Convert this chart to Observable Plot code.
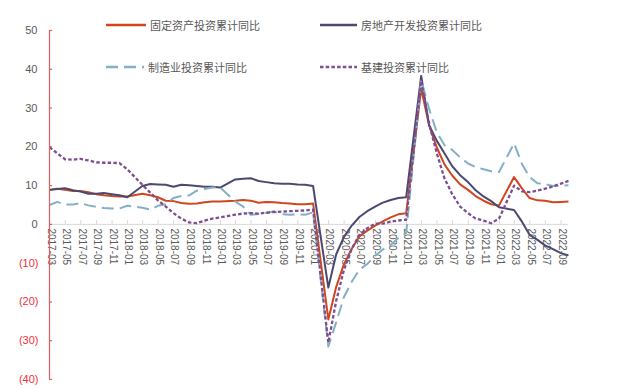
<!DOCTYPE html>
<html>
<head>
<meta charset="utf-8">
<script src="https://cdn.jsdelivr.net/npm/d3@7"></script>
<script src="https://cdn.jsdelivr.net/npm/@observablehq/plot@0.6"></script>
<style>
  html, body { margin: 0; padding: 0; background: #fff; }
  #wrap { position: relative; width: 626px; height: 388px; }
  .lg { position: absolute; display: flex; align-items: center; height: 16px;
        font-family: "Noto Sans CJK SC", "Noto Sans", sans-serif; font-size: 11px; color: #595959; white-space: nowrap; }
  .lg svg { margin-right: 4px; }
</style>
</head>
<body>
<div id="wrap"></div>
<script>
// ---- data (cumulative YoY %, month-end) ----
const months = [
  "2017-02","2017-03","2017-04","2017-05","2017-06","2017-07","2017-08","2017-09","2017-10","2017-11","2017-12",
  "2018-02","2018-03","2018-04","2018-05","2018-06","2018-07","2018-08","2018-09","2018-10","2018-11","2018-12",
  "2019-02","2019-03","2019-04","2019-05","2019-06","2019-07","2019-08","2019-09","2019-10","2019-11","2019-12",
  "2020-02","2020-03","2020-04","2020-05","2020-06","2020-07","2020-08","2020-09","2020-10","2020-11","2020-12",
  "2021-02","2021-03","2021-04","2021-05","2021-06","2021-07","2021-08","2021-09","2021-10","2021-11","2021-12",
  "2022-02","2022-03","2022-04","2022-05","2022-06","2022-07","2022-08","2022-09"
];
const seriesNames = ["固定资产投资累计同比", "房地产开发投资累计同比", "制造业投资累计同比", "基建投资累计同比"];
const fai = [
  8.9, 9.2, 8.9, 8.6, 8.6, 8.3, 7.8, 7.5, 7.3, 7.2, 7.2,
  7.9, 7.5, 7.0, 6.1, 6.0, 5.5, 5.3, 5.4, 5.7, 5.9, 5.9,
  6.1, 6.3, 6.1, 5.6, 5.8, 5.7, 5.5, 5.4, 5.2, 5.2, 5.4,
  -24.5, -16.1, -10.3, -6.3, -3.1, -1.6, -0.3, 0.8, 1.8, 2.6, 2.9,
  35.0, 25.6, 19.9, 15.4, 12.6, 10.3, 8.9, 7.3, 6.1, 5.2, 4.9,
  12.2, 9.3, 6.8, 6.2, 6.1, 5.7, 5.8, 5.9
];
const realEstate = [
  8.9, 9.1, 9.3, 8.8, 8.5, 7.9, 7.9, 8.1, 7.8, 7.5, 7.0,
  9.9, 10.4, 10.3, 10.2, 9.7, 10.2, 10.1, 9.9, 9.7, 9.7, 9.5,
  11.6, 11.8, 11.9, 11.2, 10.9, 10.6, 10.5, 10.5, 10.3, 10.2, 9.9,
  -16.3, -7.7, -3.3, -0.3, 1.9, 3.4, 4.6, 5.6, 6.3, 6.8, 7.0,
  38.3, 25.6, 21.6, 18.3, 15.0, 12.7, 10.9, 8.8, 7.2, 6.0, 4.4,
  3.7, 0.7, -2.7, -4.0, -5.4, -6.4, -7.4, -8.0
];
const manufacturing = [
  5.0, 5.8, 5.1, 5.1, 5.5, 4.9, 4.5, 4.2, 4.1, 4.1, 4.8,
  4.3, 3.8, 4.8, 5.2, 6.8, 7.3, 7.5, 8.7, 9.1, 9.5, 9.5,
  5.9, 4.6, 2.5, 2.7, 3.0, 3.3, 2.6, 2.5, 2.6, 2.5, 3.1,
  -31.5, -25.2, -18.8, -14.8, -11.7, -10.2, -8.1, -6.5, -5.3, -3.5, -2.2,
  37.3, 29.8, 23.8, 20.4, 19.2, 17.3, 15.7, 14.8, 14.2, 13.7, 13.5,
  20.9, 15.6, 12.2, 10.6, 10.4, 9.9, 10.0, 10.1
];
const infrastructure = [
  19.9, 18.3, 16.8, 16.7, 16.9, 16.5, 16.0, 15.9, 15.9, 15.8, 14.2,
  10.2, 8.2, 6.2, 4.6, 2.9, 1.5, 0.5, 0.3, 1.0, 1.5, 1.8,
  2.5, 2.8, 2.9, 2.8, 3.0, 3.2, 3.3, 3.4, 3.5, 3.6, 3.8,
  -30.5, -19.7, -11.8, -6.3, -2.7, -1.0, 0.2, 0.2, 0.7, 1.0, 1.2,
  37.0, 26.0, 18.4, 11.8, 7.8, 4.6, 2.9, 1.5, 1.0, 0.3, 1.5,
  10.0, 8.5, 8.3, 8.7, 9.2, 9.8, 10.5, 11.2
];
const xTickLabels = [
  "2017-03","2017-05","2017-07","2017-09","2017-11",
  "2018-01","2018-03","2018-05","2018-07","2018-09","2018-11",
  "2019-01","2019-03","2019-05","2019-07","2019-09","2019-11",
  "2020-01","2020-03","2020-05","2020-07","2020-09","2020-11",
  "2021-01","2021-03","2021-05","2021-07","2021-09","2021-11",
  "2022-01","2022-03","2022-05","2022-07","2022-09"
];
const yTicks = [-40, -30, -20, -10, 0, 10, 20, 30, 40, 50];

// ---- styles ----
const colors = ["#D0461E", "#4B4970", "#82B0C5", "#7E4E90"];
const dashes = [null, null, "12,6", "3.5,2.2"];
const widths = [2, 2, 2, 2.3];
const axisRed = "#E06060";
const labelRed = "#F0303A";
const gray = "#595959";

// ---- build table ----
const monthEnd = s => { const [y, m] = s.split("-").map(Number); return new Date(Date.UTC(y, m, 0)); };
const monthStart = s => { const [y, m] = s.split("-").map(Number); return new Date(Date.UTC(y, m - 1, 1)); };
const allSeries = [fai, realEstate, manufacturing, infrastructure];
const rows = allSeries.map((vals, k) => months.map((m, i) => ({date: monthEnd(m), value: vals[i], series: seriesNames[k]})));
const xStart = monthEnd(months[0]);
const xEnd = monthEnd(months[months.length - 1]);
const xTicks = xTickLabels.map(l => ({date: monthStart(l), label: l}));
const fmtY = v => v < 0 ? `(${-v})` : `${v}`;

const lineMarks = rows.map((data, k) => Plot.line(data, {
  x: "date", y: "value", stroke: colors[k], strokeWidth: widths[k],
  strokeDasharray: dashes[k] || undefined, strokeLinejoin: "round", strokeLinecap: "butt"
}));

const chart = Plot.plot({
  width: 626,
  height: 388,
  marginLeft: 49,
  marginRight: 58,
  marginTop: 30,
  marginBottom: 9,
  style: {fontFamily: "'Liberation Sans', Arial, sans-serif", background: "transparent"},
  x: {type: "utc", domain: [xStart, xEnd], axis: null},
  y: {domain: [-40, 50], axis: null},
  marks: [
    Plot.ruleY([0], {stroke: "#D9D9D9", strokeWidth: 1}),
    Plot.ruleX(xTicks, {x: "date", y1: 0, y2: 1, stroke: "#D9D9D9"}),
    Plot.text(xTicks, {x: "date", y: () => 0, text: "label", rotate: 90, textAnchor: "start",
      dy: 4, dx: 1, fontSize: 10, fill: gray}),
    ...lineMarks,
    Plot.ruleX([xStart], {stroke: axisRed, strokeWidth: 1.2}),
    Plot.ruleY(yTicks, {y: d => d, x1: () => xStart, x2: () => d3.utcDay.offset(xStart, 12), stroke: axisRed, strokeWidth: 1.2}),
    Plot.text(yTicks.filter(v => v >= 0), {x: () => xStart, y: d => d, text: fmtY, textAnchor: "end", dx: -12, fontSize: 11, fill: gray}),
    Plot.text(yTicks.filter(v => v < 0), {x: () => xStart, y: d => d, text: fmtY, textAnchor: "end", dx: -11, fontSize: 11, fill: labelRed})
  ]
});

const wrap = document.getElementById("wrap");
wrap.appendChild(chart);

// ---- legend (HTML overlay) ----
const legendPos = [
  {left: 106, top: 17, w: 40},
  {left: 320, top: 17, w: 37},
  {left: 106, top: 59, w: 38},
  {left: 320, top: 59, w: 37}
];
seriesNames.forEach((name, k) => {
  const p = legendPos[k];
  const item = document.createElement("div");
  item.className = "lg";
  item.style.left = p.left + "px";
  item.style.top = p.top + "px";
  const dash = dashes[k] ? `stroke-dasharray="${dashes[k]}"` : "";
  item.innerHTML = `<svg width="${p.w}" height="8"><line x1="0" y1="4" x2="${p.w}" y2="4" stroke="${colors[k]}" stroke-width="${widths[k] + 0.4}" ${dash}/></svg><span>${name}</span>`;
  wrap.appendChild(item);
});
</script>
</body>
</html>
